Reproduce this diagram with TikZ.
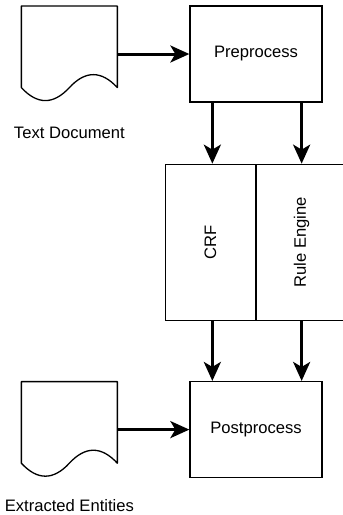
\documentclass[tikz,border=0pt]{standalone}
\usepackage{fontspec}
\setmainfont{Liberation Sans}
\usetikzlibrary{arrows.meta,positioning}

% document outline (wavy bottom) drawn round an empty node
\newcommand{\docwave}[1]{%
  \draw[docline] (#1.north west) -- (#1.north east)
    -- ([yshift=14.4pt]#1.south east)
    .. controls ([xshift=-16pt,yshift=31.7pt]#1.south east) and ([xshift=-32pt,yshift=31.7pt]#1.south east) .. ([yshift=14.4pt]#1.south)
    .. controls ([xshift=-16pt,yshift=-2.9pt]#1.south) and ([xshift=-32pt,yshift=-2.9pt]#1.south) .. ([yshift=14.4pt]#1.south west)
    -- cycle;}

\begin{document}
\begin{tikzpicture}[
    x=1pt, y=1pt,
    font=\fontsize{16.6pt}{20pt}\selectfont,
    block/.style={
        draw,
        line width=1.3pt,
        minimum width=132pt,
        minimum height=96pt,
        inner sep=0pt
    },
    cell/.style={
        draw,
        line width=1.3pt,
        minimum width=90pt,
        minimum height=156pt,
        inner sep=0pt
    },
    docbox/.style={
        minimum width=96pt,
        minimum height=96pt,
        inner sep=0pt,
        outer sep=0pt
    },
    docline/.style={line width=1.3pt, line join=round},
    caption/.style={inner sep=0pt},
    line/.style={-{Stealth[length=19pt,width=17pt,inset=5pt]}, line width=3pt}
]
\useasboundingbox (0,0) rectangle (343,-515);

% ---- Top row ----
\node[block] (pre) at (256,-54) {Preprocess};
\node[docbox, left=72pt of pre] (txtdoc) {};
\docwave{txtdoc}
\node[caption, below=25pt of txtdoc] (txtlbl) {Text Document};

% ---- Extractors ----
\node[cell, below left=61pt and 0pt of pre.south] (crf) {\rotatebox{90}{CRF}};
\node[cell, right=0pt of crf] (rule) {\rotatebox{90}{Rule Engine}};

% ---- Bottom row ----
\node[block, below=60pt of crf.south east] (post) {Postprocess};
\node[docbox, left=72pt of post] (entdoc) {};
\docwave{entdoc}
\node[caption, below=22pt of entdoc] (entlbl) {Extracted Entities};

% ---- Connections ----
\draw[line] (txtdoc) -- (pre);
\draw[line] ([xshift=2pt]crf.north |- pre.south) -- ([xshift=2pt]crf.north);
\draw[line] (rule.north |- pre.south) -- (rule.north);
\draw[line] ([xshift=2pt]crf.south) -- ([xshift=2pt]crf.south |- post.north);
\draw[line] (rule.south) -- (rule.south |- post.north);
\draw[line] (entdoc) -- (post);

\end{tikzpicture}
\end{document}
